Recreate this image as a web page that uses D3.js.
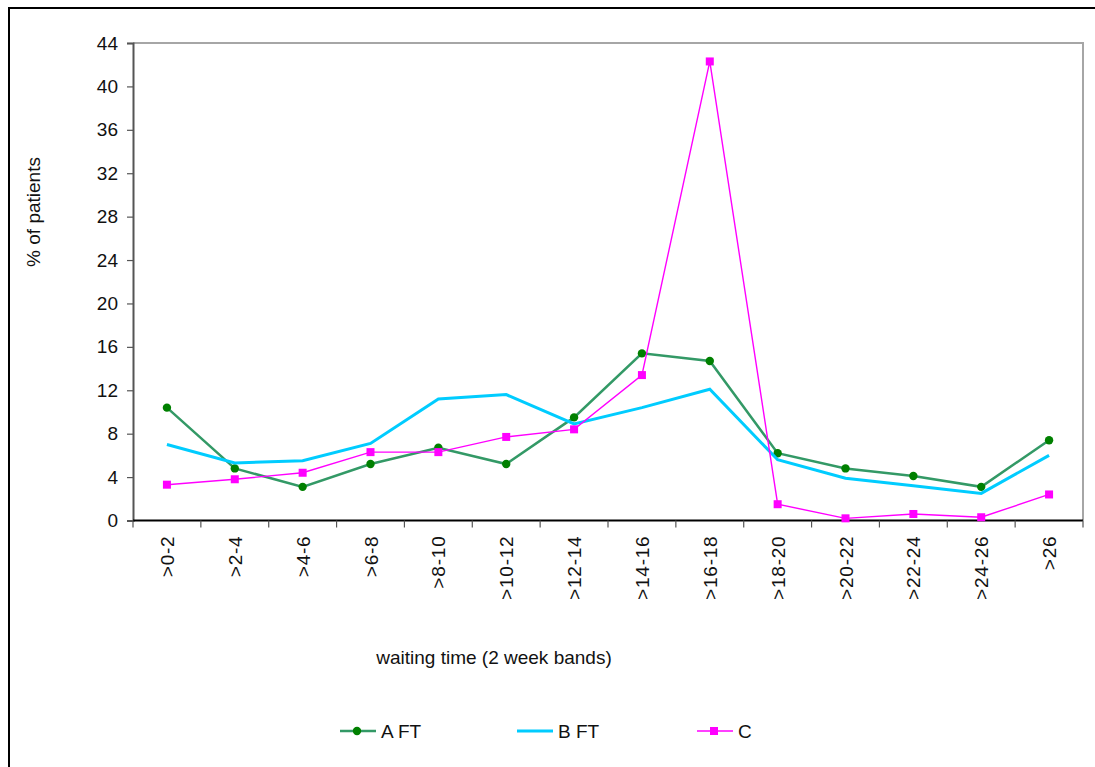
<!DOCTYPE html>
<html>
<head>
<meta charset="utf-8">
<script src="https://cdn.jsdelivr.net/npm/d3@7"></script>
<style>
  html, body { margin: 0; padding: 0; background: #fff; }
  svg { display: block; font-family: "Liberation Sans", Arial, sans-serif; }
</style>
</head>
<body>
<svg id="chart" width="1095" height="767"></svg>
<script>
// Waiting-time bands (2 weeks each)
const categories = [">0-2", ">2-4", ">4-6", ">6-8", ">8-10", ">10-12", ">12-14",
  ">14-16", ">16-18", ">18-20", ">20-22", ">22-24", ">24-26", ">26"];

// % of patients per band
const aFT = [10.4, 4.8, 3.1, 5.2, 6.7, 5.2, 9.5, 15.4, 14.7, 6.2, 4.8, 4.1, 3.1, 7.4];
const bFT = [7.0, 5.3, 5.5, 7.1, 11.2, 11.6, 8.9, 10.4, 12.1, 5.6, 3.9, 3.2, 2.5, 6.0];
const cVals = [3.3, 3.8, 4.4, 6.3, 6.3, 7.7, 8.4, 13.4, 42.3, 1.5, 0.2, 0.6, 0.3, 2.4];

const yTicks = [0, 4, 8, 12, 16, 20, 24, 28, 32, 36, 40, 44];

const seriesList = [
  { name: "A FT", values: aFT, line: "#339966", marker: "circle", markerColor: "#008000", width: 2.5 },
  { name: "B FT", values: bFT, line: "#00CCFF", marker: null, width: 3 },
  { name: "C", values: cVals, line: "#FF00FF", marker: "square", markerColor: "#FF00FF", width: 1.4 }
];

const FONT = 19;
const svg = d3.select("#chart");
const plot = { left: 133, right: 1083, top: 43, bottom: 520.5 };

// Outer chart frame
svg.append("path")
  .attr("d", "M9,767 L9,8 L1095,8")
  .attr("fill", "none").attr("stroke", "#000").attr("stroke-width", 2);

const x = d3.scaleBand().domain(categories).range([plot.left, plot.right]).paddingInner(0).paddingOuter(0);
const y = d3.scaleLinear().domain([0, 44]).range([plot.bottom, plot.top]);

// Plot-area top and right borders
svg.append("path")
  .attr("d", `M${plot.left},${plot.top} L${plot.right},${plot.top} L${plot.right},${plot.bottom}`)
  .attr("fill", "none").attr("stroke", "#a6a6a6").attr("stroke-width", 2);

// Y axis
const yAxis = svg.append("g")
  .attr("transform", `translate(${plot.left},0)`)
  .call(d3.axisLeft(y).tickValues(yTicks).tickSize(6).tickPadding(9));
yAxis.select(".domain").attr("stroke", "#555").attr("stroke-width", 2);
yAxis.selectAll(".tick line").attr("stroke", "#555").attr("stroke-width", 1.2);
yAxis.selectAll(".tick text").attr("font-size", FONT).attr("fill", "#111")
  .attr("font-family", "Liberation Sans, Arial, sans-serif");

// X axis: ticks at band boundaries
const xAxis = svg.append("g").attr("transform", `translate(0,${plot.bottom})`);
xAxis.append("line")
  .attr("x1", plot.left).attr("x2", plot.right)
  .attr("stroke", "#000").attr("stroke-width", 2);
const bounds = categories.map(c => x(c)).concat([plot.right]);
xAxis.selectAll("line.tk").data(bounds).enter().append("line")
  .attr("class", "tk")
  .attr("x1", d => d).attr("x2", d => d).attr("y1", 0).attr("y2", 7)
  .attr("stroke", "#555").attr("stroke-width", 1.2);
xAxis.selectAll("text.lbl").data(categories).enter().append("text")
  .attr("class", "lbl")
  .attr("transform", d => `translate(${x(d) + x.bandwidth() / 2 + 7},15) rotate(-90)`)
  .attr("text-anchor", "end")
  .attr("font-size", FONT)
  .attr("letter-spacing", "0.8")
  .attr("fill", "#111")
  .text(d => d);

// Axis titles
svg.append("text")
  .attr("transform", "translate(40,212) rotate(-90)")
  .attr("text-anchor", "middle").attr("font-size", FONT).attr("fill", "#111")
  .text("% of patients");
svg.append("text")
  .attr("x", 494).attr("y", 664)
  .attr("text-anchor", "middle").attr("font-size", FONT).attr("fill", "#111")
  .text("waiting time (2 week bands)");

// Series lines and markers
const cx = (d, i) => x(categories[i]) + x.bandwidth() / 2;
const line = d3.line().x((d, i) => cx(d, i)).y(d => y(d));

function drawMarker(g, type, color, px, py) {
  if (type === "circle") {
    g.append("circle").attr("cx", px).attr("cy", py).attr("r", 4.2).attr("fill", color);
  } else if (type === "square") {
    g.append("rect").attr("x", px - 4).attr("y", py - 4).attr("width", 8).attr("height", 8).attr("fill", color);
  }
}

seriesList.forEach(s => {
  const g = svg.append("g");
  g.append("path").datum(s.values)
    .attr("d", line)
    .attr("fill", "none").attr("stroke", s.line).attr("stroke-width", s.width)
    .attr("stroke-linejoin", "miter");
  if (s.marker) {
    s.values.forEach((v, i) => drawMarker(g, s.marker, s.markerColor, cx(v, i), y(v)));
  }
});

// Legend
const legendX = [340, 517, 697];
const legendY = 731;
seriesList.forEach((s, i) => {
  const g = svg.append("g");
  const lx = legendX[i];
  g.append("line").attr("x1", lx).attr("x2", lx + 36).attr("y1", legendY).attr("y2", legendY)
    .attr("stroke", s.line).attr("stroke-width", s.width);
  if (s.marker) drawMarker(g, s.marker, s.markerColor, lx + 17, legendY);
  g.append("text").attr("x", lx + 41).attr("y", legendY + 7)
    .attr("font-size", FONT).attr("fill", "#111").text(s.name);
});
</script>
</body>
</html>
